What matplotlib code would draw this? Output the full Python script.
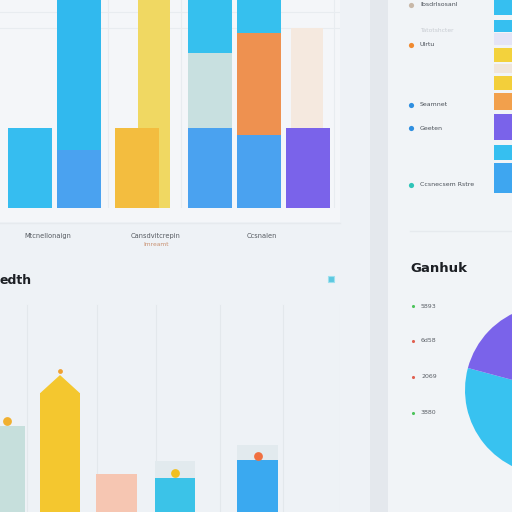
import numpy as np
import matplotlib.pyplot as plt
from matplotlib.patches import Rectangle

# ---- data ----
# top chart: stacked columns (value units, 0-100 = chart height)
top_base = [38.5, 28, 38.5, 38.5, 35, 38.5]
top_mid = [0, 0, 0, 36, 49, 0]
top_cap = [0, 75, 0, 28, 18, 0]
top_base_colors = ['#36bdf0', '#4aa2f0', '#f3bd3f', '#4aa2f0', '#4aa2f0', '#7a63ea']
top_mid_colors = ['none', 'none', 'none', '#c8e0e0', '#ee9150', 'none']
top_cap_colors = ['none', '#31b9ee', 'none', '#36c0ee', '#36c0ee', 'none']
back_values = [104, 48]          # tall yellow column, cream column
back_bottoms = [0, 38.5]
back_colors = ['#f0d862', '#f5e9df']
top_labels = ['Mtcnellonaign', 'Cansdvitcrepin', 'Ccsnalen']
top_sublabel = 'Imreamt'

# bottom chart
bot_values = [40.5, 56, 18, 16, 24.5]
bot_peak = 64.6
bot_dots = [43, 66.5, None, 18.4, 26.4]
bot_caps = [0, 0, 0, 8, 7]
bot_colors = ['#c6dfdc', '#f4c72f', '#f6c6b2', '#3bc3e8', '#3aa9f0']
dot_colors = ['#f0b030', '#f0a030', None, '#f2c020', '#f07040']
bot_title = 'edth'

# right legend (top)
legend_top = ['Ibsdrlsosanl', 'Ulrtu', 'Seamnet', 'Geeten', 'Ccsnecsem Rstre']
legend_top_colors = ['#c8b8a8', '#f08a30', '#2f8fe0', '#2f8fe0', '#2fc4b8']
strip_values = [15, 12, 12, 14, 9, 14, 17, 26, 15, 30]
strip_gaps = [0, 5, 1, 3, 2, 3, 3, 4, 5, 3]
strip_colors = ['#36bff0', '#36bff0', '#e4e4f6', '#f3d23c', '#f0e6dc', '#f3cf3a',
                '#f2a04c', '#7a63ea', '#36bff0', '#3ea6f0']

# right legend (bottom) + pie
pie_title = 'Ganhuk'
pie_labels = ['5893', '6d58', '2069', '3880']
pie_dot_colors = ['#4cc35a', '#e06050', '#e06050', '#4cc35a']
pie_values = [30, 22, 16, 32]
pie_colors = ['#38c2f0', '#3aa9f0', '#9a8cf0', '#7a63ea']

BG = '#eef2f6'
PANEL = '#f4f6f9'


def box(x0, y0, x1, y1):
    # pixel box (top-left origin) -> figure rect
    return [x0 / 512, 1 - y1 / 512, (x1 - x0) / 512, (y1 - y0) / 512]


fig = plt.figure(figsize=(5.12, 5.12), dpi=100)
fig.patch.set_facecolor(BG)

# background panels
bg = fig.add_axes([0, 0, 1, 1])
bg.set_xlim(0, 512)
bg.set_ylim(512, 0)
bg.axis('off')
bg.add_patch(Rectangle((0, 0), 340, 222, facecolor=PANEL, edgecolor='none'))
bg.add_patch(Rectangle((370, 0), 18, 512, facecolor='#e4e8ed', edgecolor='none'))
bg.add_patch(Rectangle((388, 0), 124, 512, facecolor='#f1f4f7', edgecolor='none'))
bg.plot([0, 340], [223, 223], color='#e6eaee', lw=1)
bg.plot([410, 512], [231, 231], color='#e6eaee', lw=1)

# ---- top chart ----
ax = fig.add_axes(box(0, 0, 340, 208))
ax.set_xlim(0, 340)
ax.set_ylim(0, 100)
ax.axis('off')
for y in [94, 86.5]:
    ax.axhline(y, color='#e8ecf0', lw=0.8, zorder=0)
for x in [108, 181, 334]:
    ax.axvline(x, color='#e8ecf0', lw=0.8, zorder=0)

pos = [30, 78.5, 137, 210, 259, 308]
back_pos = [154, 307]
back_w = [32, 32]
ax.bar(back_pos, back_values, width=back_w, bottom=back_bottoms, color=back_colors, zorder=1)
mid_b = np.array(top_base)
cap_b = mid_b + np.array(top_mid)
ax.bar(pos, top_base, width=44, color=top_base_colors, zorder=2)
ax.bar(pos, top_mid, width=44, bottom=mid_b, color=top_mid_colors, zorder=2)
ax.bar(pos, top_cap, width=44, bottom=cap_b, color=top_cap_colors, zorder=2)

for lbl, x in zip(top_labels, [48, 156, 262]):
    fig.text(x / 512, 1 - 236 / 512, lbl, fontsize=4.8, color='#555a60',
             ha='center', va='center')
fig.text(156 / 512, 1 - 244 / 512, top_sublabel, fontsize=4.3, color='#c89070',
         ha='center', va='center')

# ---- bottom chart ----
bx = fig.add_axes(box(0, 300, 340, 512))
bx.set_xlim(0, 340)
bx.set_ylim(0, 100)
bx.axis('off')
for x in [27, 97, 156, 220, 283, 340]:
    bx.axvline(x, ymax=0.975, color='#e3e8ec', lw=0.8, zorder=0)

bpos = [7, 60, 116.5, 175, 257.5]
bw = [36, 40, 41, 40, 41]
bx.bar(bpos, bot_values, width=bw, color=bot_colors, zorder=2)
bx.bar(bpos, bot_caps, width=bw, bottom=bot_values, color='#e2eaee', zorder=1)
# pointed top on the tall column
px, pw = bpos[1], bw[1]
bx.fill([px - pw / 2, px, px + pw / 2], [bot_values[1], bot_peak, bot_values[1]],
        color=bot_colors[1], lw=0, zorder=2)
for x, d, c in zip(bpos, bot_dots, dot_colors):
    if d is not None:
        s = 12 if x == px else 40
        bx.scatter([x], [d], s=s, color=c, zorder=3, lw=0)

fig.text(0 / 512, 1 - 281 / 512, bot_title, fontsize=9, fontweight='bold',
         color='#1c1f24', ha='left', va='center')
bg.add_patch(Rectangle((328, 276), 6, 6, facecolor='#5cc8e0', edgecolor='#9ee0ee', lw=0.8))

# ---- right column, top legend ----
for lbl, c, y in zip(legend_top, legend_top_colors, [5, 45, 105, 128, 185]):
    bg.scatter([411], [y], s=14, color=c, lw=0, zorder=3)
    fig.text(420 / 512, 1 - y / 512, lbl, fontsize=4.5, color='#4a5058',
             ha='left', va='center')
fig.text(420 / 512, 1 - 30 / 512, 'Tatotshcter', fontsize=4.3, color='#c8ccd2',
         ha='left', va='center')

sx = fig.add_axes(box(494, 0, 512, 200))
sx.set_xlim(0, 1)
sx.set_ylim(200, 0)
sx.axis('off')
bottoms = np.cumsum(np.array(strip_gaps) + np.r_[0, strip_values[:-1]])
sx.bar([0.5] * len(strip_values), strip_values, width=1, bottom=bottoms, color=strip_colors)

# ---- right column, bottom: legend + pie ----
fig.text(410 / 512, 1 - 268 / 512, pie_title, fontsize=9.5, fontweight='bold',
         color='#1c1f24', ha='left', va='center')
for lbl, c, y in zip(pie_labels, pie_dot_colors, [306, 341, 377, 413]):
    bg.scatter([413], [y], s=5, color=c, lw=0, zorder=3)
    fig.text(421 / 512, 1 - y / 512, lbl, fontsize=4.5, color='#5a5f66',
             ha='left', va='center')

px_ = fig.add_axes(box(465, 305, 635, 475))
px_.pie(pie_values, colors=pie_colors, startangle=165, counterclock=True,
        wedgeprops=dict(linewidth=0))
px_.set_xlim(-1, 1)
px_.set_ylim(-1, 1)
px_.set_aspect('equal')
for p in px_.patches:
    p.set_clip_on(False)

fig.savefig('out.png', dpi=100, facecolor=BG)
